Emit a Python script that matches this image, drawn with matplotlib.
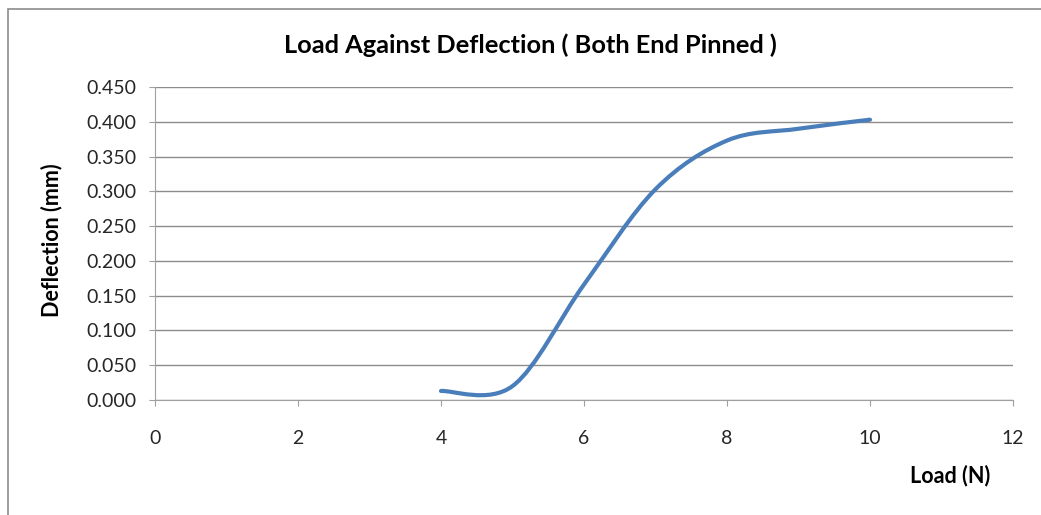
import matplotlib.pyplot as plt
from matplotlib.path import Path
from matplotlib.patches import PathPatch, Rectangle
import numpy as np

plt.rcParams['font.family'] = ['Lato', 'DejaVu Sans']

# load (N) and deflection (mm)
load = [4, 5, 6, 7, 8, 9, 10]
deflection = [0.013, 0.020, 0.166, 0.303, 0.373, 0.390, 0.403]

x_ticks = [0, 2, 4, 6, 8, 10, 12]
y_ticks = [0.000, 0.050, 0.100, 0.150, 0.200, 0.250, 0.300, 0.350, 0.400, 0.450]

line_color = '#4a7ebb'
grid_color = '#8c8c8c'
axis_color = '#a0a0a0'
text_color = '#262626'


def smooth_path(xs, ys):
    # excel-like smoothed line: cubic bezier segments through the points
    pts = np.column_stack([xs, ys])
    n = len(pts)
    verts = [pts[0]]
    codes = [Path.MOVETO]
    for i in range(n - 1):
        p0 = pts[max(i - 1, 0)]
        p1 = pts[i]
        p2 = pts[i + 1]
        p3 = pts[min(i + 2, n - 1)]
        c1 = p1 + (p2 - p0) / 6
        c2 = p2 - (p3 - p1) / 6
        verts += [c1, c2, p2]
        codes += [Path.CURVE4] * 3
    return Path(verts, codes)


fig = plt.figure(figsize=(10.41, 5.15), dpi=100)
ax = fig.add_axes([155 / 1041, 1 - 400 / 515, (1013 - 155) / 1041, (400 - 87) / 515])

# outer chart frame (only left and top edges are inside the picture)
fig.patches.append(Rectangle((8 / 1041, -0.1), 1.2, 1 - 9 / 515 + 0.1,
                             transform=fig.transFigure, fill=False,
                             edgecolor='#8c8c8c', linewidth=1.2))

ax.add_patch(PathPatch(smooth_path(load, deflection), facecolor='none',
                       edgecolor=line_color, linewidth=3, capstyle='round'))

ax.set_xlim(0, 12)
ax.set_ylim(0, 0.45)
ax.set_xticks(x_ticks)
ax.set_yticks(y_ticks)
ax.set_xticklabels([str(t) for t in x_ticks])
ax.set_yticklabels(['%.3f' % t for t in y_ticks])

ax.grid(axis='y', color=grid_color, linewidth=1)
ax.set_axisbelow(True)
for s in ['top', 'right']:
    ax.spines[s].set_visible(False)
for s in ['left', 'bottom']:
    ax.spines[s].set_color(axis_color)
ax.tick_params(axis='both', colors=axis_color, labelcolor=text_color,
               labelsize=14, length=4.5, direction='out')
ax.tick_params(axis='x', pad=17)
ax.tick_params(axis='y', pad=9)

fig.text(530 / 1041, 1 - 45 / 515, 'Load Against Deflection ( Both End Pinned )',
         ha='center', va='center', fontsize=18.3, fontweight='bold', color='black')
fig.text(52 / 1041, 1 - 240 / 515, 'Deflection (mm)', rotation=90,
         ha='center', va='center', fontsize=15.5, fontweight='bold', color='black')
fig.text(950 / 1041, 1 - 476 / 515, 'Load (N)',
         ha='center', va='center', fontsize=15.5, fontweight='bold', color='black')

fig.savefig('out.png', dpi=100)
